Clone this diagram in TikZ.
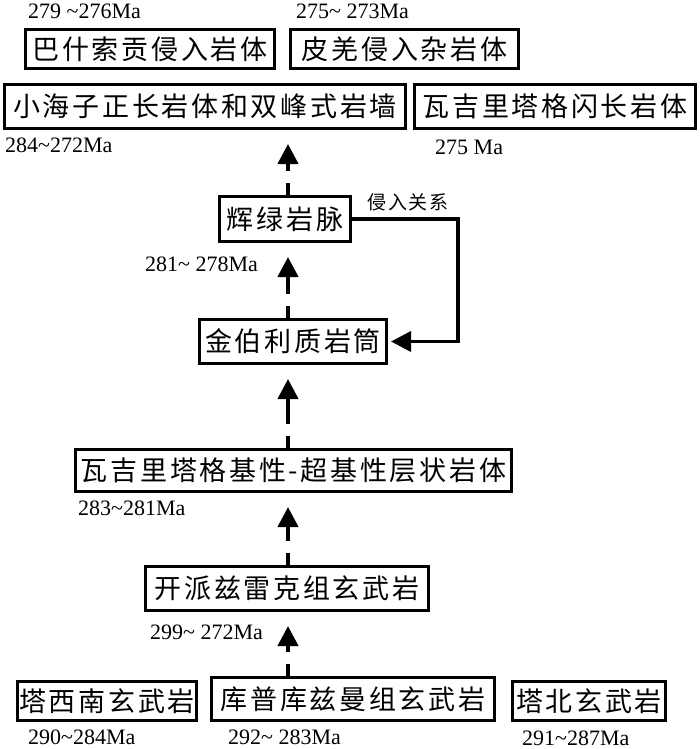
\documentclass[tikz,border=0pt]{standalone}
\usepackage{fontspec}
\setmainfont{Liberation Serif}
\newfontfamily\cjk{Noto Sans CJK SC}[LetterSpace=10]
\usetikzlibrary{arrows.meta}

\tikzset{
	rockbox/.style={draw, line width=3pt, inner sep=0pt, font=\cjk\fontsize{27}{27}\selectfont},
	age/.style={anchor=west, inner sep=0pt, font=\fontsize{22}{22}\selectfont},
	uparrow/.style={line width=4pt, -{Triangle[length=20pt, width=20pt]}, dash pattern=on 12pt off 12pt on 200pt, shorten >=14pt}
}

\begin{document}
\begin{tikzpicture}[x=1pt, y=-1pt]
	\useasboundingbox[fill=white] (0, 0) rectangle (700, 749);
	% upper rows
	\node[rockbox, minimum width=249pt, minimum height=39pt] at (150, 49) (bsg) {巴什索贡侵入岩体};
	\node[rockbox, minimum width=228pt, minimum height=39pt] at (404.5, 49) (pq) {皮羌侵入杂岩体};
	\node[rockbox, minimum width=401pt, minimum height=44pt] at (205, 106.5) (xhz) {小海子正长岩体和双峰式岩墙};
	\node[rockbox, minimum width=281pt, minimum height=44pt] at (555, 106.5) (wjl) {瓦吉里塔格闪长岩体};
	\node[age] at (28, 11) (t1) {279 \textasciitilde276Ma};
	\node[age] at (296, 11) (t2) {275\textasciitilde{} 273Ma};
	\node[age] at (5, 145) (t3) {284\textasciitilde272Ma};
	\node[age] at (435, 147) (t4) {275 Ma};
	% middle
	\node[rockbox, minimum width=131pt, minimum height=45pt] at (285, 219) (hl) {辉绿岩脉};
	\node[rockbox, minimum width=187pt, minimum height=44pt] at (293, 341.5) (jbl) {金伯利质岩筒};
	\node[age] at (145, 264) (t5) {281\textasciitilde{} 278Ma};
	\node[anchor=west, inner sep=0pt, font=\cjk\fontsize{19}{19}\selectfont] at (367, 202) (qr) {侵入关系};
	\node[rockbox, minimum width=436pt, minimum height=42pt] at (293.5, 470.5) (cz) {瓦吉里塔格基性-超基性层状岩体};
	\node[age] at (78, 508) (t6) {283\textasciitilde281Ma};
	\node[rockbox, minimum width=283pt, minimum height=44pt] at (287, 588.5) (kp) {开派兹雷克组玄武岩};
	\node[age] at (150, 632) (t7) {299\textasciitilde{} 272Ma};
	% bottom row
	\node[rockbox, minimum width=179pt, minimum height=39pt] at (107, 701) (txn) {塔西南玄武岩};
	\node[rockbox, minimum width=283pt, minimum height=43pt] at (353, 699) (kpk) {库普库兹曼组玄武岩};
	\node[rockbox, minimum width=153pt, minimum height=39pt] at (589, 701) (tb) {塔北玄武岩};
	\node[age] at (28, 737) (t8) {290\textasciitilde284Ma};
	\node[age] at (228, 737) (t9) {292\textasciitilde{} 283Ma};
	\node[age] at (522, 738) (t10) {291\textasciitilde287Ma};
	% arrows
	\coordinate (ax) at (288, 0);
	\draw[uparrow] (kpk.north -| ax) -- (kp.south -| ax);
	\draw[uparrow] (kp.north -| ax) -- (cz.south -| ax);
	\draw[uparrow] (cz.north -| ax) -- (jbl.south -| ax);
	\draw[uparrow] (jbl.north -| ax) -- (hl.south -| ax);
	\draw[uparrow] (hl.north -| ax) -- (xhz.south -| ax);
	\coordinate (rc) at (458, 0);
	\draw[line width=3.5pt, -{Triangle[length=20pt, width=20pt]}, shorten >=3pt] (hl.east) -- (hl.east -| rc) -- (jbl.east -| rc) -- (jbl.east);
\end{tikzpicture}
\end{document}
